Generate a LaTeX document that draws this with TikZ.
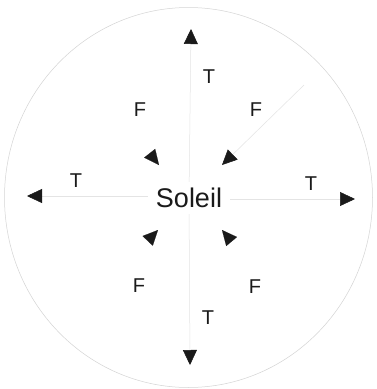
\documentclass[tikz,border=0pt]{standalone}
\usepackage{fontspec}
\setmainfont{Liberation Sans}
\usetikzlibrary{arrows.meta}
\definecolor{txt}{HTML}{1A1A1A}
\definecolor{linegray}{HTML}{E4E4E4}
\definecolor{circgray}{HTML}{D4D4D4}
\begin{document}
\begin{tikzpicture}[x=1pt,y=-1pt,
  lbl/.style={inner sep=0pt,text=txt,font=\fontsize{20}{24}\selectfont},
  sunlbl/.style={inner xsep=8pt,inner ysep=6pt,text=txt,font=\fontsize{27}{32}\selectfont},
  conn/.style={draw=linegray,line width=0.5pt,-{Triangle[length=15pt,width=14pt,color=txt]}},
  head/.style={draw=white,line width=0.1pt,-{Triangle[length=15pt,width=14pt,color=txt]}},
  circ/.style={draw=circgray,line width=0.5pt}]
\useasboundingbox (0,0) rectangle (377,389);
\fill[white] (0,0) rectangle (377,389);
\draw[circ] (188.5,197.5) ellipse [x radius=184, y radius=190];
% sun
\node[sunlbl] (sol) at (189,198) {Soleil};
% arrow tips
\coordinate (ttop) at (191,29);
\coordinate (tbot) at (190,365);
\coordinate (tleft) at (27,196);
\coordinate (tright) at (355,199);
\coordinate (ulb) at (149.7,153.3);
\coordinate (ult) at (159,165);
\coordinate (urs) at (304,85);
\coordinate (urt) at (222,165);
\coordinate (llb) at (148,240.5);
\coordinate (llt) at (158,230);
\coordinate (lrb) at (231.6,241.5);
\coordinate (lrt) at (222,230);
% connectors
\draw[conn] (sol) -- (ttop);
\draw[conn] (sol) -- (tbot);
\draw[conn] (sol.west |- tleft) -- (tleft);
\draw[conn] (sol.east |- tright) -- (tright);
\draw[conn] (urs) -- (urt);
\draw[head] (ulb) -- (ult);
\draw[head] (llb) -- (llt);
\draw[head] (lrb) -- (lrt);
% labels
\node[lbl] (t1) at (209,77) {T};
\node[lbl] (f1) at (140,110) {F};
\node[lbl] (f2) at (256,110) {F};
\node[lbl] (t2) at (76,181) {T};
\node[lbl] (t3) at (311,184) {T};
\node[lbl] (f3) at (139,286) {F};
\node[lbl] (f4) at (255,287) {F};
\node[lbl] (t4) at (208,318) {T};
\end{tikzpicture}
\end{document}
